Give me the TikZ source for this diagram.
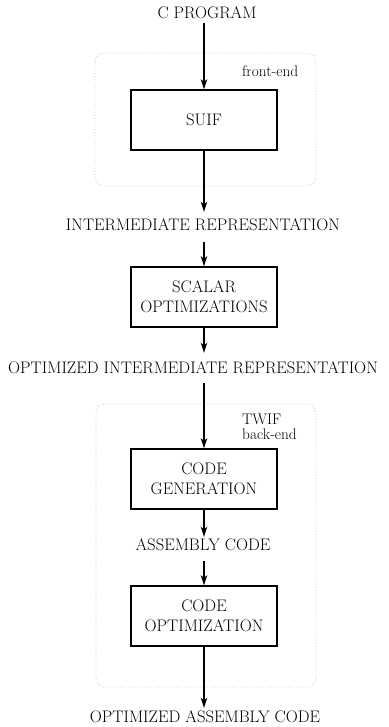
\documentclass[tikz,border=0pt]{standalone}
\usetikzlibrary{arrows.meta}
\begin{document}
\begin{tikzpicture}[x=1pt,y=-1pt,
  font=\fontsize{16.7}{20}\selectfont,
  stage/.style={draw,line width=1.4pt,minimum width=146pt,minimum height=60pt,align=center,inner sep=0pt},
  lbl/.style={inner sep=0pt,text height=11pt,text depth=0pt},
  flow/.style={line width=1.3pt,-{Stealth[length=10pt,width=6.5pt,inset=2.5pt]}},
  group/.style={draw=black!22,dotted,line width=0.8pt,rounded corners=9pt},
  note/.style={font=\fontsize{15.3}{15}\selectfont,align=left,inner sep=0pt,anchor=west}]
\useasboundingbox (0,0) rectangle (388,727);
\draw[group] (95,53) rectangle (316,186);
\draw[group] (96,404) rectangle (316,687);
\node[note] (fe) at (242,71) {front-end};
\node[note] (be) at (242,427) {TWIF\\back-end};
\node[lbl] (cprog) at (207,13) {C PROGRAM};
\node[stage] (suif) at (204,120) {SUIF};
\node[lbl] (ir) at (203,225) {INTERMEDIATE REPRESENTATION};
\node[stage] (scalar) at (204,297) {SCALAR\\OPTIMIZATIONS};
\node[lbl] (oir) at (193,368) {OPTIMIZED INTERMEDIATE REPRESENTATION};
\node[stage] (cgen) at (204,479) {CODE\\GENERATION};
\node[lbl] (asm) at (203,545) {ASSEMBLY CODE};
\node[stage] (copt) at (204,616) {CODE\\OPTIMIZATION};
\node[lbl] (oasm) at (205,717) {OPTIMIZED ASSEMBLY CODE};
\draw[flow,shorten <=4.5pt] (suif.north |- cprog.south) -- (suif.north);
\draw[flow,shorten >=7.5pt] (suif.south) -- (suif.south |- ir.north);
\draw[flow,shorten <=11.5pt] (scalar.north |- ir.south) -- (scalar.north);
\draw[flow,shorten >=9.5pt] (scalar.south) -- (scalar.south |- oir.north);
\draw[flow,shorten <=9.5pt] (cgen.north |- oir.south) -- (cgen.north);
\draw[flow,shorten >=2.5pt] (cgen.south) -- (cgen.south |- asm.north);
\draw[flow,shorten <=10.5pt] (copt.north |- asm.south) -- (copt.north);
\draw[flow,shorten >=3.5pt] (copt.south) -- (copt.south |- oasm.north);
\end{tikzpicture}
\end{document}
